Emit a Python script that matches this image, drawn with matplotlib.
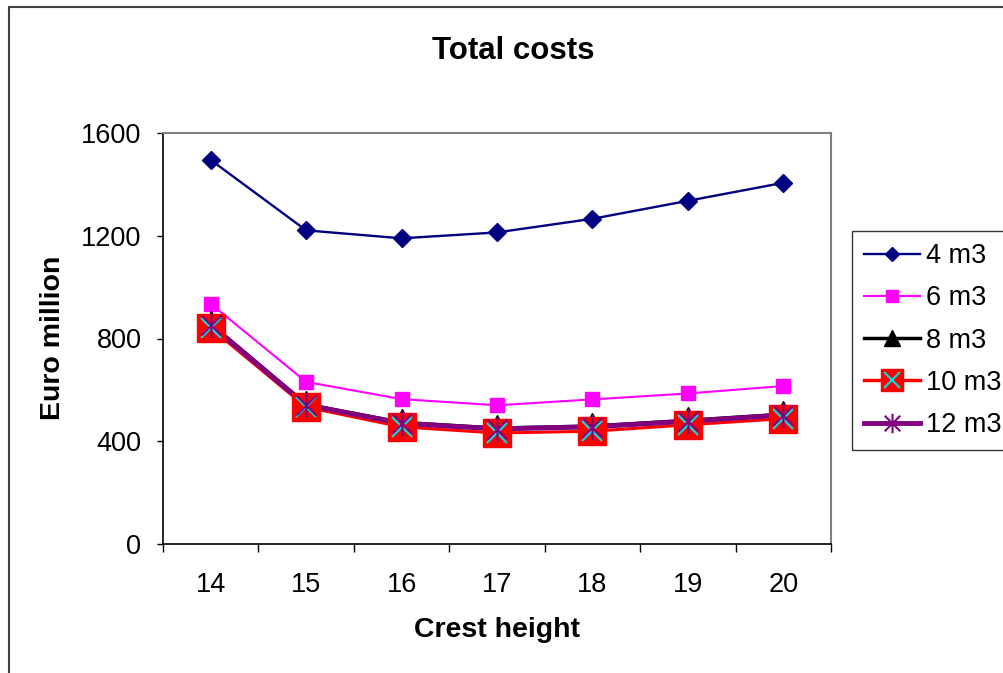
import matplotlib.pyplot as plt
from matplotlib.path import Path
from matplotlib.lines import Line2D
from matplotlib.patches import Rectangle
from matplotlib.legend_handler import HandlerTuple

plt.rcParams['font.family'] = ['Liberation Sans', 'DejaVu Sans']

# Total costs (Euro million) per crest height, for each volume
crest = [14, 15, 16, 17, 18, 19, 20]
cost_4 = [1495, 1221, 1190, 1213, 1266, 1336, 1406]
cost_6 = [935, 631, 564, 540, 563, 586, 615]
cost_8 = [858, 545, 474, 452, 460, 482, 506]
cost_10 = [841, 533, 456, 432, 439, 464, 488]
cost_12 = [853, 541, 470, 448, 456, 478, 502]
labels = ['4 m3', '6 m3', '8 m3', '10 m3', '12 m3']

W, H = 1004, 673
fig = plt.figure(figsize=(W / 100, H / 100), dpi=100)
ax = fig.add_axes([163 / W, 1 - 544 / H, 668 / W, 411 / H])

# asterisk marker: vertical bar plus an x
star = Path([(0, -1), (0, 1), (-0.8, -0.8), (0.8, 0.8), (-0.8, 0.8), (0.8, -0.8)],
            [Path.MOVETO, Path.LINETO, Path.MOVETO, Path.LINETO, Path.MOVETO, Path.LINETO])

# lines first, markers on top of all lines
ax.plot(crest, cost_4, color='#000080', lw=1.7, zorder=2)
ax.plot(crest, cost_6, color='#ff00ff', lw=1.5, zorder=2)
ax.plot(crest, cost_8, color='black', lw=2.2, zorder=2)
ax.plot(crest, cost_10, color='red', lw=2.2, zorder=2)
ax.plot(crest, cost_12, color='#800080', lw=3.6, zorder=2)

ax.plot(crest, cost_4, ls='none', marker='D', ms=9.5, color='#000080', zorder=3)
ax.plot(crest, cost_6, ls='none', marker='s', ms=9.5, color='#ff00ff', zorder=3)
ax.plot(crest, cost_8, ls='none', marker='^', ms=18.5, color='black', zorder=4)
ax.plot(crest, cost_10, ls='none', marker='s', ms=19.5, color='red', zorder=5)
ax.plot(crest, cost_10, ls='none', marker='x', ms=14, mew=1.5, color='#00e0e0', zorder=6)
ax.plot(crest, cost_12, ls='none', marker=star, ms=18, mew=1.5, color='#800080', zorder=7)

ax.set_xlim(13.5, 20.5)
ax.set_ylim(0, 1600)
ax.set_yticks([0, 400, 800, 1200, 1600])
ax.set_xticks(crest)
ax.set_xticks([c - 0.5 for c in crest] + [20.5], minor=True)
ax.tick_params(axis='x', which='major', length=0, pad=20, labelsize=19.5)
ax.tick_params(axis='x', which='minor', length=6, width=1, direction='out')
ax.tick_params(axis='y', length=4.5, width=1, pad=11, labelsize=19.5)

for side in ['top', 'right']:
    ax.spines[side].set_color('#808080')
    ax.spines[side].set_linewidth(1.5)
for side in ['left', 'bottom']:
    ax.spines[side].set_color('black')
    ax.spines[side].set_linewidth(1.2)

fig.text(513 / W, 1 - 51 / H, 'Total costs', fontsize=22.5, fontweight='bold',
         ha='center', va='center')
fig.text(497 / W, 1 - 630 / H, 'Crest height', fontsize=20.5, fontweight='bold',
         ha='center', va='center')
fig.text(53 / W, 1 - 338 / H, 'Euro million', fontsize=20.5, fontweight='bold',
         rotation=90, ha='center', va='center')

# outer chart border
fig.add_artist(Rectangle((9 / W, -0.1), 1.2, 1 - 7 / H + 0.1, transform=fig.transFigure,
                         fill=False, edgecolor='#404040', lw=1.5))

# legend handles
h4 = Line2D([], [], color='#000080', lw=1.7, marker='D', ms=7.5)
h6 = Line2D([], [], color='#ff00ff', lw=1.5, marker='s', ms=9)
h8 = Line2D([], [], color='black', lw=2.5, marker='^', ms=11)
h10a = Line2D([], [], color='red', lw=2.5, marker='s', ms=16.5)
h10b = Line2D([], [], ls='none', marker='x', ms=11, mew=1.5, color='#00e0e0')
h12 = Line2D([], [], color='#800080', lw=3.5, marker=star, ms=14, mew=1.5)

leg = fig.legend([h4, h6, h8, (h10a, h10b), h12], labels,
                 handler_map={tuple: HandlerTuple(ndivide=1)},
                 loc='upper left', bbox_to_anchor=(852 / W, 1 - 231 / H),
                 fontsize=19.5, frameon=True, fancybox=False, borderaxespad=0,
                 borderpad=0.45, handlelength=2.05, handletextpad=0.22,
                 labelspacing=0.6)
leg.get_frame().set_edgecolor('black')
leg.get_frame().set_linewidth(1)

plt.savefig('out.png', dpi=100)
